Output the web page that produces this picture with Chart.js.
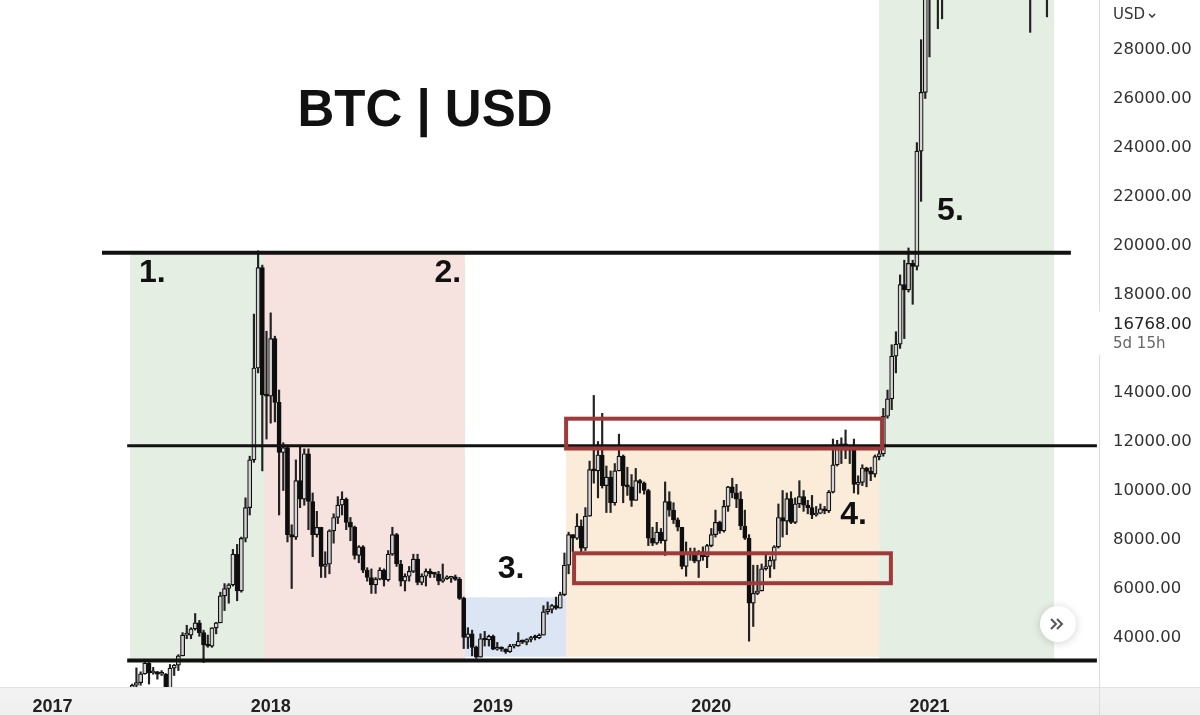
<!DOCTYPE html>
<html>
<head>
<meta charset="utf-8">
<title>BTC | USD</title>
<script src="https://cdn.jsdelivr.net/npm/chart.js@4.4.1/dist/chart.umd.min.js"></script>
<style>
  html, body { margin: 0; padding: 0; background: #fff; }
  #wrap { width: 1200px; height: 715px; }
</style>
</head>
<body>
<div id="wrap"><canvas id="chart" width="1200" height="715"></canvas></div>
<script>
// weekly candles, week 0 = first week of 2017
const FIRST_WEEK = 19;

const opens = [
  // 2017
  1720, 2050, 2160, 2520, 2950, 2550, 2600, 2500, 2510, 1930, 2750, 2870, 3250, 4100, 4100, 4350, 4600,
  4200, 3700, 3650, 4390, 4600, 5700, 6000, 6150, 7400, 5900, 8050, 9300, 11250, 15000, 19100, 13900,
  // 2018
  13850, 16200, 13600, 11550, 11750, 8200, 8100, 10400, 9650, 11500, 9550, 8200, 8500, 6900, 7000, 8350,
  8900, 9400, 9650, 8700, 8500, 7350, 7700, 6750, 6450, 6150, 6380, 6750, 6350, 7400, 8200, 7000,
  6300, 6500, 6700, 7200, 6250, 6500, 6700, 6600, 6590, 6300, 6400, 6420, 6480, 6370, 5600, 4000,
  4150, 3600, 3200, 3950, 3900,
  // 2019
  4050, 3520, 3540, 3530, 3420, 3650, 3660, 3850, 3810, 3920, 4000, 3990, 4100, 5050, 5150, 5300,
  5200, 5750, 6950, 8200, 8050, 8550, 7650, 8950, 10850, 10800, 11450, 10200, 10550, 9500, 10800, 11400,
  10200, 10150, 9600, 10400, 10300, 10000, 8050, 7850, 8300, 7950, 9550, 9200, 8800, 8500, 6900, 7400,
  7500, 7120, 7500, 7300,
  // 2020
  7750, 8200, 8700, 8350, 9350, 10150, 9900, 9650, 8550, 8050, 5400, 5800, 5900, 6800, 6900, 7150,
  7700, 8900, 8750, 9670, 8700, 9450, 9750, 9400, 9300, 9000, 9070, 9250, 9170, 9930, 11050, 11680,
  11900, 11650, 11700, 10250, 10330, 10920, 10780, 10670, 11380, 11500, 13030, 13740, 15480, 15970, 18400, 18190,
  19270, 19150, 23850, 26250,
  // 2021
  33000, 38150, 35800, 32250, 33100, 38900, 48600, 57400, 45200, 50900, 59000, 57500, 55800, 58200, 60000, 56200,
  49100, 56600, 58200, 46400, 34700, 35600, 35800, 39100, 35500, 34700, 35300, 34250, 31800
];
const highs = [
  2100, 2760, 2600, 2980, 2980, 2780, 2620, 2650, 2530, 2900, 2900, 3300, 4200, 4500, 4400, 4980, 4700,
  4300, 4100, 4400, 4620, 5850, 6200, 6200, 7600, 7800, 8100, 9700, 11400, 17200, 19783, 19200, 16500,
  17250, 16300, 14100, 11950, 11800, 8600, 11250, 11800, 11700, 11700, 9900, 9150, 8500, 7500, 8400, 9050,
  9750, 9950, 9700, 8900, 8550, 7750, 7750, 6850, 6800, 6450, 6850, 6800, 7550, 8500, 8250, 7150,
  6600, 6900, 7400, 7400, 6600, 6800, 6800, 6650, 6700, 7000, 6520, 6500, 6550, 6450, 5650, 4400,
  4300, 3650, 4150, 4250, 4100,
  4100, 3800, 3620, 3540, 3720, 3720, 4200, 3900, 3950, 4050, 4100, 4150, 5300, 5450, 5350, 5650,
  5850, 7450, 8300, 8200, 9050, 8800, 9300, 11200, 13880, 12000, 13150, 11000, 10800, 11100, 12300, 11450,
  10950, 10650, 10900, 10450, 10350, 10050, 8500, 8700, 8450, 10350, 9950, 9500, 8880, 8500, 7900, 7650,
  7650, 7550, 7700, 7800,
  8450, 9200, 8750, 9600, 10170, 10500, 10250, 9950, 9200, 8200, 6950, 6950, 7000, 7450, 7300, 7750,
  9450, 10000, 9900, 9950, 9700, 10400, 10000, 9600, 9800, 9350, 9450, 9350, 10000, 12100, 12050, 12150,
  12470, 11800, 12100, 10600, 11050, 10950, 10950, 11450, 11700, 13350, 14100, 15950, 16480, 18800, 19400, 19900,
  19400, 24200, 28400, 34800,
  41950, 40100, 37850, 38500, 40900, 49700, 58300, 57500, 52600, 61800, 60600, 58400, 60000, 61300, 64900, 57500,
  58000, 59600, 59600, 46700, 40800, 39300, 39300, 41300, 36000, 36600, 35900, 34700, 35500
];
const lows = [
  1700, 1950, 2050, 2500, 2100, 2500, 2300, 2450, 1850, 1900, 2450, 2650, 3250, 3950, 3950, 4300, 4050,
  2980, 3600, 3600, 4150, 4600, 5100, 5400, 6100, 5500, 5850, 7900, 9000, 11150, 14800, 10800, 12100,
  12750, 12800, 9000, 10000, 7900, 6000, 8000, 9300, 9400, 8400, 7300, 8100, 6450, 6450, 6600, 7850,
  8650, 9000, 8400, 7950, 7200, 7050, 6650, 6300, 5800, 5800, 6350, 6100, 6300, 7350, 6900, 6100,
  5900, 6300, 6650, 6150, 6150, 6100, 6450, 6450, 6150, 6250, 6370, 6250, 6330, 5550, 3550, 3550,
  3250, 3150, 3200, 3650, 3650,
  3500, 3480, 3440, 3350, 3390, 3570, 3640, 3750, 3700, 3820, 3900, 3950, 4100, 4950, 5000, 5150,
  5200, 5700, 6600, 7500, 8000, 7450, 7550, 8950, 10300, 9700, 10100, 9100, 9100, 9400, 10800, 9500,
  9800, 9350, 9600, 9900, 9850, 7750, 7750, 7800, 7850, 7350, 8950, 8650, 8350, 6800, 6500, 7150,
  7050, 6450, 7150, 6850,
  7700, 8100, 8250, 8300, 9150, 9700, 9300, 8400, 8000, 3850, 4450, 5750, 5900, 6750, 6450, 6800,
  7650, 8100, 8200, 8650, 8650, 9300, 9150, 9050, 8850, 8950, 9050, 9050, 9100, 9900, 11000, 11100,
  11300, 11100, 9900, 9850, 10200, 10150, 10400, 10550, 11250, 11400, 12950, 13300, 14800, 15800, 16200, 18100,
  17600, 19000, 21800, 26000,
  27700, 30400, 28850, 29250, 32300, 37400, 47000, 43000, 45000, 49300, 53200, 50400, 55000, 55500, 52000, 47000,
  48800, 53100, 43800, 30100, 31200, 34800, 31000, 33300, 28700, 32700, 32100, 31100, 29330
];
const closes = [
  2050, 2160, 2520, 2950, 2550, 2600, 2500, 2510, 1930, 2750, 2870, 3250, 4100, 4100, 4350, 4600, 4200,
  3700, 3650, 4390, 4600, 5700, 6000, 6150, 7400, 5900, 8050, 9300, 11250, 15000, 19100, 13900, 13850,
  16200, 13600, 11550, 11750, 8200, 8100, 10400, 9650, 11500, 9550, 8200, 8500, 6900, 7000, 8350, 8900,
  9400, 9650, 8700, 8500, 7350, 7700, 6750, 6450, 6150, 6380, 6750, 6350, 7400, 8200, 7000, 6300,
  6500, 6700, 7200, 6250, 6500, 6700, 6600, 6590, 6300, 6400, 6420, 6480, 6370, 5600, 4000, 4150,
  3600, 3200, 3950, 3900, 4050,
  3520, 3540, 3530, 3420, 3650, 3660, 3850, 3810, 3920, 4000, 3990, 4100, 5050, 5150, 5300, 5200,
  5750, 6950, 8200, 8050, 8550, 7650, 8950, 10850, 10800, 11450, 10200, 10550, 9500, 10800, 11400, 10200,
  10150, 9600, 10400, 10300, 10000, 8050, 7850, 8300, 7950, 9550, 9200, 8800, 8500, 6900, 7400, 7500,
  7120, 7500, 7300, 7750,
  8200, 8700, 8350, 9350, 10150, 9900, 9650, 8550, 8050, 5400, 5800, 5900, 6800, 6900, 7150, 7700,
  8900, 8750, 9670, 8700, 9450, 9750, 9400, 9300, 9000, 9070, 9250, 9170, 9930, 11050, 11680, 11900,
  11650, 11700, 10250, 10330, 10920, 10780, 10670, 11380, 11500, 13030, 13740, 15480, 15970, 18400, 18190, 19270,
  19150, 23850, 26250, 33000,
  38150, 35800, 32250, 33100, 38900, 48600, 57400, 45200, 50900, 59000, 57500, 55800, 58200, 60000, 56200, 49100,
  56600, 58200, 46400, 34700, 35600, 35800, 39100, 35500, 34700, 35300, 34250, 31800, 35400
];

// axis labels
const yearLabels = ['2017', '2018', '2019', '2020', '2021'];
const yearWeeks = [0, 52, 105, 157, 209];
const priceTicks = [4000, 6000, 8000, 10000, 12000, 14000, 18000, 20000, 22000, 24000, 26000, 28000];
const currentPrice = 16768;
const countdown = '5d 15h';
const currency = 'USD';
const title = 'BTC | USD';

// annotations drawn around the candles (week / price units)
const zones = [
  { from: 18.47, to: 50.4, top: 19700, bottom: 3060, color: '#e5eee2' },
  { from: 50.4, to: 98.3, top: 19700, bottom: 3060, color: '#f6e2df' },
  { from: 98.3, to: 122.4, top: 5641, bottom: 3216, color: '#dce5f3' },
  { from: 122.4, to: 197.0, top: 11830, bottom: 3216, color: '#faecd9' },
  { from: 197.0, to: 238.7, top: 30020, bottom: 3060, color: '#e5eee2' }
];
const levels = [
  { price: 19700, from: 11.8, to: 242.7, width: 4 },
  { price: 11830, from: 17.8, to: 248.9, width: 3 },
  { price: 3060, from: 17.8, to: 248.9, width: 4 }
];
const boxes = [
  { from: 122.4, to: 197.7, top: 12931, bottom: 11714 },
  { from: 124.3, to: 199.8, top: 7437, bottom: 6216 }
];
const stageLabels = ['1.', '2.', '3.', '4.', '5.'];
const stageWeeks = [23.8, 94.2, 109.3, 190.9, 214.0];
const stagePrices = [18510, 18510, 6429, 8633, 21041];

const weeks = opens.map((_, i) => FIRST_WEEK + i);
const bodyColors = opens.map((o, i) => closes[i] >= o ? '#d4d4d4' : '#0d0d0d');

const overlay = {
  id: 'overlay',
  beforeDraw(chart) {
    const c = chart.ctx;
    c.save();
    c.fillStyle = '#ffffff';
    c.fillRect(0, 0, chart.width, chart.height);
    const bottom = chart.chartArea.bottom;
    const g = c.createLinearGradient(0, bottom, 0, chart.height);
    g.addColorStop(0, '#f3f3f3');
    g.addColorStop(1, '#efefef');
    c.fillStyle = g;
    c.fillRect(0, bottom, chart.width, chart.height - bottom);
    c.fillStyle = '#e2e2e2';
    c.fillRect(0, bottom, chart.width, 1);
    c.restore();
  },
  beforeDatasetsDraw(chart) {
    const { ctx: c, chartArea: a, scales: { x, y } } = chart;
    c.save();
    c.beginPath();
    c.rect(a.left, a.top, a.right - a.left, a.bottom - a.top);
    c.clip();
    zones.forEach(z => {
      const x0 = x.getPixelForValue(z.from), x1 = x.getPixelForValue(z.to);
      const y0 = y.getPixelForValue(z.top), y1 = y.getPixelForValue(z.bottom);
      c.fillStyle = z.color;
      c.fillRect(x0, y0, x1 - x0, y1 - y0);
    });
    c.restore();
  },
  afterDatasetsDraw(chart) {
    const { ctx: c, chartArea: a, scales: { x, y } } = chart;
    c.save();

    // horizontal levels
    c.strokeStyle = '#111';
    levels.forEach(l => {
      const py = y.getPixelForValue(l.price);
      c.lineWidth = l.width;
      c.beginPath();
      c.moveTo(x.getPixelForValue(l.from), py);
      c.lineTo(x.getPixelForValue(l.to), py);
      c.stroke();
    });

    // red boxes
    c.strokeStyle = '#9e3a3a';
    c.lineWidth = 4;
    boxes.forEach(b => {
      const x0 = x.getPixelForValue(b.from), x1 = x.getPixelForValue(b.to);
      const y0 = y.getPixelForValue(b.top), y1 = y.getPixelForValue(b.bottom);
      c.strokeRect(x0, y0, x1 - x0, y1 - y0);
    });

    // stage numbers
    c.fillStyle = '#111';
    c.textAlign = 'center';
    c.textBaseline = 'alphabetic';
    c.font = 'bold 32px "Liberation Sans", Arial, sans-serif';
    stageLabels.forEach((t, i) => {
      c.fillText(t, x.getPixelForValue(stageWeeks[i]), y.getPixelForValue(stagePrices[i]));
    });

    // title
    c.font = 'bold 51px "Liberation Sans", Arial, sans-serif';
    c.fillText(title, 425, 126);

    // price scale separator, broken by the last price label
    const pyNow = y.getPixelForValue(currentPrice);
    c.fillStyle = '#dedede';
    c.fillRect(a.right, 0, 1, pyNow - 13);
    c.fillRect(a.right, pyNow + 30, 1, chart.height - pyNow - 30);

    // last price + countdown
    c.textAlign = 'left';
    c.textBaseline = 'middle';
    c.fillStyle = '#222';
    c.font = '16.5px "DejaVu Sans", sans-serif';
    c.fillText(currentPrice.toFixed(2), a.right + 14, pyNow);
    c.fillStyle = '#666';
    c.font = '15px "DejaVu Sans", sans-serif';
    c.fillText(countdown, a.right + 14, pyNow + 19);

    // currency selector
    c.fillStyle = '#333';
    c.font = '15px "DejaVu Sans", sans-serif';
    c.fillText(currency, a.right + 14, 15);
    const cx = a.right + 14 + c.measureText(currency).width + 7;
    c.strokeStyle = '#333';
    c.lineWidth = 1.5;
    c.beginPath();
    c.moveTo(cx - 3, 14);
    c.lineTo(cx, 17);
    c.lineTo(cx + 3, 14);
    c.stroke();

    // scroll button
    c.shadowColor = 'rgba(0,0,0,0.18)';
    c.shadowBlur = 8;
    c.shadowOffsetY = 1;
    c.fillStyle = '#fff';
    c.beginPath();
    c.arc(1058, 624, 18, 0, Math.PI * 2);
    c.fill();
    c.shadowColor = 'transparent';
    c.strokeStyle = '#555';
    c.lineWidth = 2;
    [-3, 3].forEach(d => {
      c.beginPath();
      c.moveTo(1054 + d, 619);
      c.lineTo(1059 + d, 624);
      c.lineTo(1054 + d, 629);
      c.stroke();
    });
    c.restore();
  }
};

new Chart(document.getElementById('chart'), {
  type: 'bar',
  data: {
    datasets: [
      {
        label: 'body',
        data: weeks.map((w, i) => ({ x: w, y: [opens[i], closes[i]] })),
        backgroundColor: bodyColors,
        borderColor: '#111',
        borderWidth: 1.2,
        borderSkipped: false,
        barThickness: 4.2,
        minBarLength: 2,
        grouped: false,
        clip: 0,
        order: 0
      },
      {
        label: 'wick',
        data: weeks.map((w, i) => ({ x: w, y: [lows[i], highs[i]] })),
        backgroundColor: '#222',
        borderWidth: 0,
        barThickness: 1.5,
        grouped: false,
        clip: 0,
        order: 1
      }
    ]
  },
  options: {
    responsive: false,
    animation: false,
    layout: { padding: 0 },
    plugins: { legend: { display: false }, tooltip: { enabled: false } },
    scales: {
      x: {
        type: 'linear',
        min: -12.512,
        max: 249.4,
        offset: false,
        grid: { display: false, drawTicks: false },
        border: { display: false },
        afterBuildTicks: ax => { ax.ticks = yearWeeks.map(v => ({ value: v })); },
        afterFit: ax => { ax.height = 28; ax.paddingLeft = 0; ax.paddingRight = 0; },
        ticks: {
          autoSkip: false,
          maxRotation: 0,
          padding: 9,
          color: '#222',
          font: { family: '"Liberation Sans", Arial, sans-serif', size: 18, weight: 'bold' },
          callback: (v, i) => yearLabels[i]
        }
      },
      y: {
        position: 'right',
        min: 1980,
        max: 30020,
        grid: { display: false, drawTicks: false },
        border: { display: false },
        afterBuildTicks: ax => { ax.ticks = priceTicks.map(v => ({ value: v })); },
        afterFit: ax => { ax.width = 101; ax.paddingTop = 0; ax.paddingBottom = 0; },
        ticks: {
          padding: 14,
          color: '#333',
          font: { family: '"DejaVu Sans", sans-serif', size: 16.5 },
          callback: v => Number(v).toFixed(2)
        }
      }
    }
  },
  plugins: [overlay]
});
</script>
</body>
</html>
